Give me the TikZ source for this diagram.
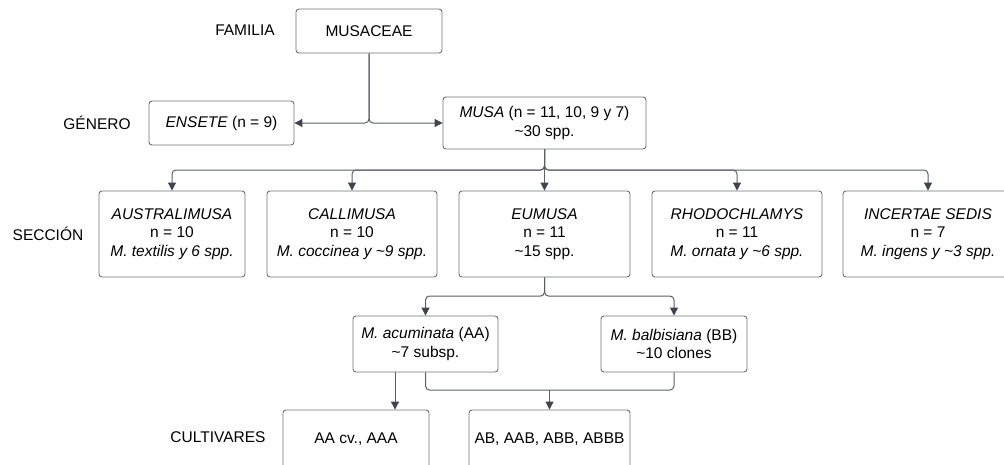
\documentclass[tikz,border=0pt]{standalone}
\usepackage{fontspec}
\setmainfont{Liberation Sans}
\usetikzlibrary{arrows.meta}
\definecolor{edgec}{HTML}{6E7076}
\definecolor{linec}{HTML}{5A5F69}
\definecolor{tipc}{HTML}{3E4550}
\begin{document}
\begin{tikzpicture}[x=1pt,y=-1pt,
  box/.style={draw=edgec,line width=0.9pt,rounded corners=3pt,align=center,inner sep=2pt,
    font=\fontsize{15.5}{18.5}\selectfont,text=black},
  lbl/.style={font=\fontsize{15.5}{18.5}\selectfont,text=black},
  conn/.style={draw=linec,line width=1pt,rounded corners=4pt},
  arr/.style={conn,-{Triangle[length=8pt,width=8pt,fill=tipc,color=tipc]}}]
\useasboundingbox (0,0) rectangle (1004,464);
% nodes
\node[box,minimum width=146pt,minimum height=44pt] (fam) at (369,31) {MUSACEAE};
\node[box,minimum width=145pt,minimum height=44pt] (ens) at (221.5,123) {\textit{ENSETE} (n = 9)};
\node[box,minimum width=203pt,minimum height=52pt] (musa) at (544.5,123) {\textit{MUSA} (n = 11, 10, 9 y 7)\\\textasciitilde30 spp.};
\node[box,minimum width=146pt,minimum height=86pt] (aus) at (172,234) {\textit{AUSTRALIMUSA}\\n = 10\\\textit{M. textilis y 6 spp.}};
\node[box,minimum width=170pt,minimum height=86pt] (cal) at (352,234) {\textit{CALLIMUSA}\\n = 10\\\textit{M. coccinea y \textasciitilde9 spp.}};
\node[box,minimum width=171pt,minimum height=86pt] (eum) at (544.5,234) {\textit{EUMUSA}\\n = 11\\\textasciitilde15 spp.};
\node[box,minimum width=170pt,minimum height=86pt] (rho) at (737,234) {\textit{RHODOCHLAMYS}\\n = 11\\\textit{M. ornata y \textasciitilde6 spp.}};
\node[box,minimum width=170pt,minimum height=86pt] (inc) at (928,234) {\textit{INCERTAE SEDIS}\\n = 7\\\textit{M. ingens y \textasciitilde3 spp.}};
\node[box,minimum width=145pt,minimum height=56pt] (acu) at (425.5,344) {\textit{M. acuminata} (AA)\\\textasciitilde7 subsp.};
\node[box,minimum width=146pt,minimum height=56pt] (bal) at (674,344) {\textit{M. balbisiana} (BB)\\\textasciitilde10 clones};
\node[box,minimum width=146pt,minimum height=58pt] (aa) at (356,439) {AA cv., AAA};
\node[box,minimum width=161pt,minimum height=58pt] (ab) at (549.5,439) {AB, AAB, ABB, ABBB};
% labels
\node[lbl] (lfam) at (245,30) {FAMILIA};
\node[lbl] (lgen) at (97,123) {GÉNERO};
\node[lbl] (lsec) at (48,234) {SECCIÓN};
\node[lbl] (lcul) at (218,437) {CULTIVARES};
% connectors
\draw[arr] (fam.south) |- (ens.east);
\draw[arr] (fam.south) |- (musa.west);
\coordinate (j2) at (544.5,170);
\draw[arr] (musa.south) -- (j2) -| (aus.north);
\draw[arr] (musa.south) -- (j2) -| (cal.north);
\draw[arr] (musa.south) -- (eum.north);
\draw[arr] (musa.south) -- (j2) -| (rho.north);
\draw[arr] (musa.south) -- (j2) -| (inc.north);
\coordinate (j3) at (544.5,296);
\draw[arr] (eum.south) -- (j3) -| (acu.north);
\draw[arr] (eum.south) -- (j3) -| (bal.north);
\draw[arr] ([xshift=-30.5pt]acu.south) -- ([xshift=-30.5pt]acu.south |- aa.north);
\coordinate (j4) at (549.5,390);
\draw[conn] (acu.south) |- (j4) -| (bal.south);
\draw[arr] (j4) -- (ab.north);
\end{tikzpicture}
\end{document}
